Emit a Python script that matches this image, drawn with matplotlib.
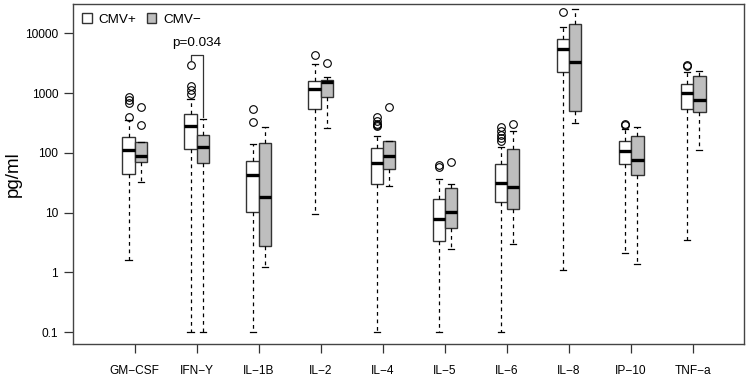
import matplotlib
matplotlib.use('Agg')
import matplotlib.pyplot as plt
from matplotlib.patches import Patch
from matplotlib.ticker import FixedLocator, NullLocator, FuncFormatter

plt.rcParams['font.family'] = ['Liberation Sans', 'DejaVu Sans']

# cytokines on the x axis
cytokines = ['GM\u2212CSF', 'IFN\u2212Y', 'IL\u22121B', 'IL\u22122', 'IL\u22124', 'IL\u22125',
             'IL\u22126', 'IL\u22128', 'IP\u221210', 'TNF\u2212a']

# CMV+ (white boxes), pg/ml
pos_lo = [1.6, 0.1, 0.1, 9.5, 0.1, 0.1, 0.1, 1.09, 2.08, 3.47]
pos_q1 = [45, 115, 10.2, 543, 30, 3.34, 15, 2265, 65, 543]
pos_med = [110, 282, 42, 1190, 68, 7.7, 31.7, 5500, 109, 995]
pos_q3 = [187, 449, 72, 1580, 121, 17.1, 64, 8000, 156, 1426]
pos_hi = [350, 800, 139, 3080, 194, 37, 127, 13000, 250, 2300]
pos_out = [[870, 770, 680, 404], [2930, 1320, 1120, 960], [550, 330], [4410],
           [400, 345, 310, 290, 280], [63, 59], [270, 230, 200, 175, 160],
           [22900], [310, 295], [2970, 2850]]

# CMV- (grey boxes)
neg_lo = [32, 0.1, 1.24, 264, 28, 2.5, 2.94, 320, 1.39, 112]
neg_q1 = [70, 68, 2.76, 853, 54, 5.6, 11.4, 503, 42, 479]
neg_med = [89, 126, 18.2, 1540, 90, 10.2, 26.8, 3370, 76, 760]
neg_q3 = [154, 202, 148, 1680, 156, 26.1, 117, 14400, 190, 1940]
neg_hi = [154, 370, 268, 1850, 156, 30, 233, 25400, 275, 2380]
neg_out = [[580, 290], [], [], [3200], [587], [71], [305], [], [], []]

# significance bracket for IFN-Y
p_text = 'p=0.034'
p_top = 4365
p_left_end = 3460
p_right_end = 400
p_text_y = 6900

yticks = [0.1, 1, 10, 100, 1000, 10000]


def make_stats(lo, q1, med, q3, hi, out):
    return [dict(whislo=a, q1=b, med=c, q3=d, whishi=e, fliers=f)
            for a, b, c, d, e, f in zip(lo, q1, med, q3, hi, out)]


fig = plt.figure(figsize=(7.48, 3.79), dpi=100)
ax = fig.add_axes([0.0972, 0.0923, 0.8975, 0.8972])

pos_x = [i + 1 - 0.1 for i in range(len(cytokines))]
neg_x = [i + 1 + 0.1 for i in range(len(cytokines))]

edge = '#333333'
flier = dict(marker='o', markersize=5.5, markerfacecolor='none',
             markeredgecolor='black', markeredgewidth=0.8)
common = dict(widths=0.2, patch_artist=True,
              medianprops=dict(color='black', linewidth=2.4),
              whiskerprops=dict(color='black', linewidth=0.9, linestyle=(0, (3, 3))),
              capprops=dict(color='black', linewidth=0.9),
              capwidths=0.1, flierprops=flier)

ax.bxp(make_stats(pos_lo, pos_q1, pos_med, pos_q3, pos_hi, pos_out),
       positions=pos_x,
       boxprops=dict(facecolor='white', edgecolor=edge, linewidth=1.0),
       **common)
ax.bxp(make_stats(neg_lo, neg_q1, neg_med, neg_q3, neg_hi, neg_out),
       positions=neg_x,
       boxprops=dict(facecolor='#bebebe', edgecolor=edge, linewidth=1.0),
       **common)

# bracket + p value
bx0, bx1 = pos_x[1], neg_x[1]
ax.plot([bx0, bx0, bx1, bx1], [p_left_end, p_top, p_top, p_right_end],
        color='#333333', linewidth=0.9)
ax.text(2, p_text_y, p_text, ha='center', va='center', fontsize=9.7)

ax.set_yscale('log')
ax.set_ylim(10 ** -1.2, 10 ** 4.494)
ax.set_xlim(0, 10.82)
ax.yaxis.set_major_locator(FixedLocator(yticks))
ax.yaxis.set_minor_locator(NullLocator())
ax.yaxis.set_major_formatter(FuncFormatter(lambda v, p: f'{v:g}'))
ax.set_xticks(range(1, len(cytokines) + 1))
ax.set_xticklabels(cytokines)
ax.tick_params(axis='both', labelsize=8.6, length=6.5, width=0.9, color='#333333')
ax.tick_params(axis='x', pad=8.5)
ax.tick_params(axis='y', pad=4)
ax.set_ylabel('pg/ml', fontsize=13.5)
ax.yaxis.set_label_coords(-0.0756, 0.5)

for s in ax.spines.values():
    s.set_color('#444444')
    s.set_linewidth(1.0)

handles = [Patch(facecolor='white', edgecolor=edge, label='CMV+'),
           Patch(facecolor='#bebebe', edgecolor=edge, label='CMV\u2212')]
ax.legend(handles=handles, loc='upper left', ncol=2, frameon=False, fontsize=9.7,
          handlelength=0.7, handleheight=0.7, handletextpad=0.5, columnspacing=0.8,
          borderaxespad=0.3, bbox_to_anchor=(0.0, 1.0))

fig.savefig('out.png', dpi=100)
